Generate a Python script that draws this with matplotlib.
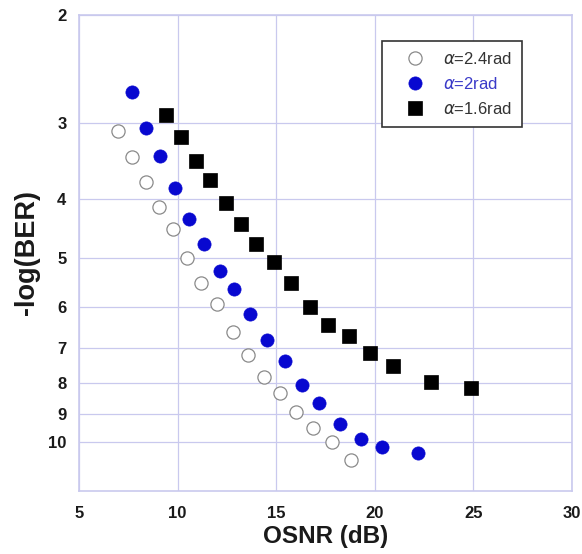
import matplotlib
matplotlib.use("Agg")
import matplotlib.pyplot as plt
from matplotlib.ticker import FixedLocator, NullLocator, NullFormatter, FixedFormatter

plt.rcParams['font.family'] = ['Liberation Sans', 'DejaVu Sans']

# alpha = 2.4 rad
osnr_a24 = [7.0, 7.68, 8.39, 9.06, 9.76, 10.49, 11.2, 12.0, 12.79, 13.57,
            14.38, 15.21, 16.02, 16.87, 17.83, 18.81]
nlogber_a24 = [3.09, 3.41, 3.75, 4.12, 4.48, 5.0, 5.48, 5.95, 6.59, 7.20,
               7.82, 8.32, 8.92, 9.47, 10.0, 10.7]

# alpha = 2 rad
osnr_a20 = [7.71, 8.42, 9.13, 9.89, 10.6, 11.35, 12.16, 12.89, 13.7, 14.56,
            15.43, 16.34, 17.2, 18.22, 19.32, 20.37, 22.18]
nlogber_a20 = [2.67, 3.06, 3.40, 3.84, 4.31, 4.73, 5.25, 5.61, 6.17, 6.79,
               7.35, 8.05, 8.62, 9.33, 9.89, 10.19, 10.4]

# alpha = 1.6 rad
osnr_a16 = [9.40, 10.17, 10.96, 11.64, 12.47, 13.23, 13.97, 14.9, 15.78, 16.73,
            17.63, 18.68, 19.78, 20.93, 22.88, 24.91]
nlogber_a16 = [2.91, 3.17, 3.46, 3.72, 4.06, 4.39, 4.73, 5.08, 5.49, 6.0,
               6.43, 6.71, 7.15, 7.51, 7.98, 8.16]

labels = [r"$\alpha$=2.4rad", r"$\alpha$=2rad", r"$\alpha$=1.6rad"]
x_ticks = [5, 10, 15, 20, 25, 30]
y_ticks = [2, 3, 4, 5, 6, 7, 8, 9, 10]

grid_col = "#c9c9ee"
blue = "#0808d0"

fig = plt.figure(figsize=(5.82, 5.54), dpi=100)
ax = fig.add_axes([0.1357, 0.1143, 0.8466, 0.8586])

ax.plot(osnr_a24, nlogber_a24, linestyle="none", marker="o", ms=9.5,
        mfc="white", mec="#8a8a8a", mew=0.9, label=labels[0], zorder=3)
ax.plot(osnr_a20, nlogber_a20, linestyle="none", marker="o", ms=9.5,
        mfc=blue, mec=blue, mew=0.5, label=labels[1], zorder=3)
ax.plot(osnr_a16, nlogber_a16, linestyle="none", marker="s", ms=9.8,
        mfc="black", mec="black", mew=0.5, label=labels[2], zorder=3)

ax.set_yscale("log")
ax.set_xlim(5, 30)
ax.set_ylim(12, 2)
ax.xaxis.set_major_locator(FixedLocator(x_ticks))
ax.yaxis.set_major_locator(FixedLocator(y_ticks))
ax.yaxis.set_major_formatter(FixedFormatter([str(t) for t in y_ticks]))
ax.yaxis.set_minor_locator(NullLocator())
ax.yaxis.set_minor_formatter(NullFormatter())

ax.grid(True, color=grid_col, linewidth=0.9)
ax.set_axisbelow(True)
for sp in ax.spines.values():
    sp.set_color(grid_col)
    sp.set_linewidth(1.2)

ax.tick_params(axis="both", length=0, labelsize=12, colors="#1a1a1a")
ax.tick_params(axis="x", pad=11)
ax.tick_params(axis="y", pad=9)
for lbl in ax.get_xticklabels() + ax.get_yticklabels():
    lbl.set_fontweight("bold")

ax.set_xlabel("OSNR (dB)", fontsize=17.5, fontweight="bold", color="#1a1a1a", labelpad=3)
ax.set_ylabel("-log(BER)", fontsize=19.5, fontweight="bold", color="#1a1a1a", labelpad=6)

leg = ax.legend(loc="upper left", bbox_to_anchor=(0.656, 0.926),
                bbox_transform=fig.transFigure, fontsize=12, frameon=True,
                fancybox=False, borderpad=0.6, labelspacing=0.54,
                handlelength=2.76, handletextpad=0.3, borderaxespad=0)
leg.get_frame().set_edgecolor("#333333")
leg.get_frame().set_linewidth(1.2)
leg.get_frame().set_facecolor("white")
leg.get_frame().set_alpha(1)
text_cols = ["#333333", "#3a3ac8", "#333333"]
for t, c in zip(leg.get_texts(), text_cols):
    t.set_color(c)

fig.savefig("out.png", dpi=100)
